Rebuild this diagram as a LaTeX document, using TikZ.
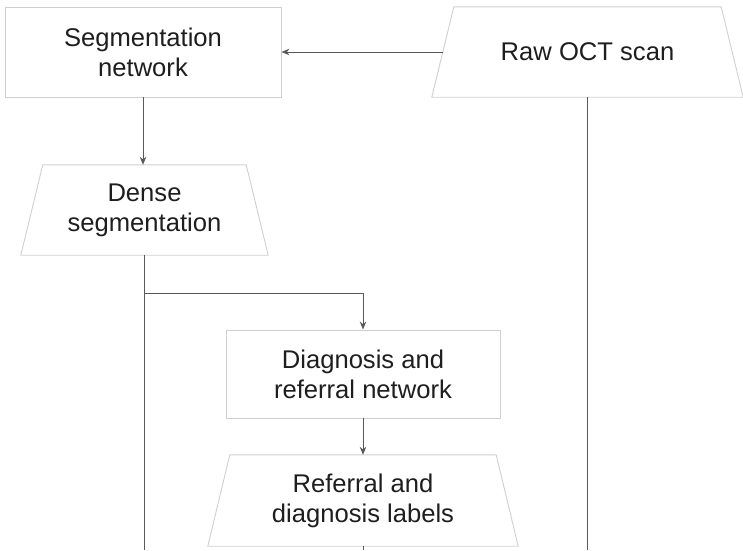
\documentclass[tikz,border=0pt]{standalone}
\usepackage{fontspec}
\setmainfont{Liberation Sans}
\usetikzlibrary{arrows.meta,calc}
\begin{document}
\begin{tikzpicture}[x=1pt,y=-1pt,
  lbl/.style={rectangle,minimum width=276pt,minimum height=90pt,inner sep=0pt,align=center,text=txt,font=\fontsize{25.6}{30}\selectfont},
  box/.style={lbl,draw=boxgray,line width=0.9pt},
  trap/.style={lbl,draw=none},
  outline/.style={draw=boxgray,line width=0.9pt,line join=miter},
  conn/.style={draw=linegray,line width=1pt},
  arr/.style={conn,-{Stealth[length=8pt,width=6.5pt]}}]
\definecolor{boxgray}{HTML}{CFCFCF}
\definecolor{linegray}{HTML}{595959}
\definecolor{txt}{HTML}{1E1E1E}
\useasboundingbox (0,0) rectangle (743,550);
\node[box] (seg) at (143,52) {Segmentation\\network};
\node[trap,minimum width=311pt] (raw) at (587.5,52) {Raw OCT scan};
\node[trap,minimum width=247pt] (dense) at (144.5,210) {Dense\\segmentation};
\node[box,minimum width=274pt,minimum height=88pt] (diag) at (363,374) {Diagnosis and\\referral network};
\node[trap,minimum width=310pt,minimum height=91pt] (ref) at (363,500.5) {Referral and\\diagnosis labels};
\foreach \n in {raw,dense,ref}{
  \draw[outline] ($(\n.north west)+(22,0)$) -- ($(\n.north east)+(-22,0)$) -- (\n.south east) -- (\n.south west) -- cycle;
}
\coordinate (rawin) at ($(raw.west)+(11,0)$);
\coordinate (j) at (dense.south |- 0,293);
\coordinate (e1) at (dense.south |- 0,550);
\coordinate (e2) at (ref.south |- 0,550);
\coordinate (e3) at (raw.south |- 0,550);
\draw[arr] (rawin) -- (seg.east);
\draw[arr] (seg.south) -- (seg.south |- dense.north);
\draw[conn] (dense.south) -- (e1);
\draw[arr] (j) -| (diag.north);
\draw[arr] (diag.south) -- (ref.north);
\draw[conn] (ref.south) -- (e2);
\draw[conn] (raw.south) -- (e3);
\end{tikzpicture}
\end{document}
